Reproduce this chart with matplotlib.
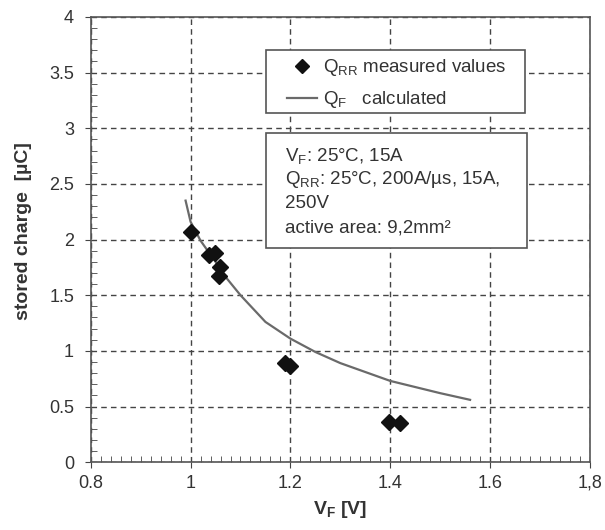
import matplotlib
matplotlib.use("Agg")
import matplotlib.pyplot as plt
from matplotlib.ticker import MultipleLocator
from matplotlib.patches import Rectangle

plt.rcParams['font.family'] = ['Liberation Sans', 'DejaVu Sans']
plt.rcParams['mathtext.fontset'] = 'custom'
plt.rcParams['mathtext.rm'] = 'Liberation Sans'
plt.rcParams['mathtext.it'] = 'Liberation Sans'
plt.rcParams['mathtext.bf'] = 'Liberation Sans:bold'

# measured Q_RR
meas_vf = [1.000, 1.037, 1.049, 1.059, 1.057, 1.189, 1.200, 1.397, 1.419]
meas_q = [2.07, 1.86, 1.88, 1.75, 1.67, 0.89, 0.86, 0.36, 0.35]

# calculated Q_F
calc_vf = [0.99, 1.00, 1.02, 1.05, 1.06, 1.10, 1.15, 1.20, 1.25, 1.30, 1.40, 1.50, 1.56]
calc_q = [2.35, 2.16, 1.99, 1.80, 1.72, 1.50, 1.26, 1.11, 0.99, 0.89, 0.73, 0.62, 0.56]

xticks = [0.8, 1.0, 1.2, 1.4, 1.6, 1.8]
xticklabels = ['0.8', '1', '1.2', '1.4', '1.6', '1,8']
yticks = [0, 0.5, 1, 1.5, 2, 2.5, 3, 3.5, 4]
yticklabels = ['0', '0.5', '1', '1.5', '2', '2.5', '3', '3.5', '4']

info_lines = [r'$\mathregular{V_F}$: 25°C, 15A',
              r'$\mathregular{Q_{RR}}$: 25°C, 200A/µs, 15A,',
              '250V',
              'active area: 9,2mm²']

txt = '#333333'
edge = '#555555'
fig = plt.figure(figsize=(6.05, 5.3), dpi=100)
ax = fig.add_axes([0.150, 0.128, 0.825, 0.840])

ax.plot(calc_vf, calc_q, color='#6a6a6a', lw=1.6, zorder=3,
        label=r'$\mathregular{Q_F}$   calculated')
ax.plot(meas_vf, meas_q, linestyle='none', marker='D', markersize=7.8,
        color='#111111', zorder=4, label=r'$\mathregular{Q_{RR}}$ measured values')

ax.set_xlim(0.8, 1.8)
ax.set_ylim(0, 4)
ax.set_xticks(xticks)
ax.set_xticklabels(xticklabels)
ax.set_yticks(yticks)
ax.set_yticklabels(yticklabels)
ax.xaxis.set_minor_locator(MultipleLocator(0.02))
ax.yaxis.set_minor_locator(MultipleLocator(0.1))
ax.tick_params(which='major', direction='out', length=4, labelsize=13,
               labelcolor=txt, color='#444444')
ax.tick_params(axis='y', which='major', pad=8)
ax.tick_params(axis='x', which='major', pad=5)
ax.tick_params(which='minor', direction='in', length=4, color='#444444')
ax.grid(True, which='major', linestyle=(0, (4, 3)), color='#444444', lw=1.0)
for s in ax.spines.values():
    s.set_color(edge)
    s.set_linewidth(1.2)

ax.set_xlabel(r'$\mathbf{V_F}$ [V]', fontsize=14, fontweight='bold', color=txt, labelpad=5)
ax.set_ylabel('stored charge  [µC]', fontsize=14, fontweight='bold', color=txt)
ax.yaxis.set_label_coords(-0.118, 0.52)

# legend box
ax.add_patch(Rectangle((0.351, 0.784), 0.519, 0.142, transform=ax.transAxes,
                       facecolor='white', edgecolor=edge, lw=1.2, zorder=6))
h, l = ax.get_legend_handles_labels()
leg = ax.legend([h[1], h[0]], [l[1], l[0]], loc='center left',
                bbox_to_anchor=(0.393, 0.850), frameon=False,
                fontsize=13.5, handlelength=1.6, handletextpad=0.3,
                labelspacing=0.6, borderpad=0, borderaxespad=0,
                markerscale=0.85, labelcolor=txt)
leg.set_zorder(7)

# info box
ax.add_patch(Rectangle((0.351, 0.481), 0.523, 0.258, transform=ax.transAxes,
                       facecolor='white', edgecolor=edge, lw=1.2, zorder=6))
y0 = 0.688
for i, line in enumerate(info_lines):
    ax.text(0.389, y0 - i * 0.054, line, transform=ax.transAxes, fontsize=13.5,
            color=txt, va='center', ha='left', zorder=7)

fig.savefig('out.png', dpi=100, facecolor='white')
